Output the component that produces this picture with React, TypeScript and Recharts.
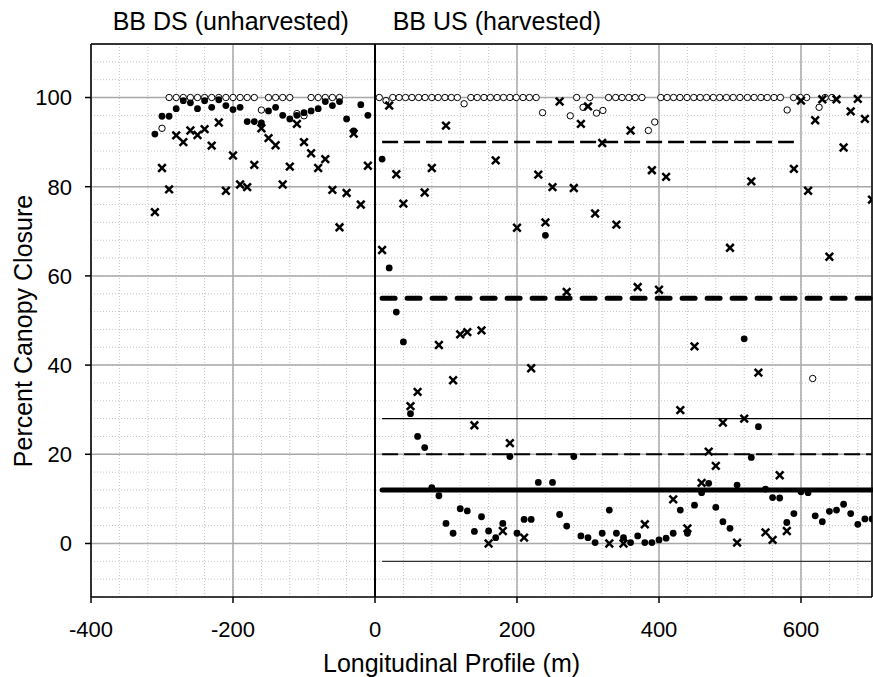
import React from 'react';
import { ScatterChart, Scatter, XAxis, YAxis, CartesianGrid, ReferenceLine } from 'recharts';

const W = 873;
const H = 677;
const FONT = 'Arial, "Liberation Sans", Helvetica, sans-serif';

// ---- ticks ----
const xMajorTicks = [-400, -200, 0, 200, 400, 600];
const yMajorTicks = [0, 20, 40, 60, 80, 100];
const xMinorTicks = [-400, -360, -320, -280, -240, -200, -160, -120, -80, -40, 0, 40, 80, 120, 160, 200, 240, 280, 320, 360, 400, 440, 480, 520, 560, 600, 640, 680];
const yMinorTicks = [-12, -8, -4, 0, 4, 8, 12, 16, 20, 24, 28, 32, 36, 40, 44, 48, 52, 56, 60, 64, 68, 72, 76, 80, 84, 88, 92, 96, 100, 104, 108];

// ---- BB DS (unharvested) ----
const dsX = [-310, -300, -290, -280, -270, -260, -250, -240, -230, -220, -210, -200, -190, -180, -170, -160, -150, -140, -130, -120, -110, -100, -90, -80, -70, -60, -50, -40, -30, -20, -10];
const dsFilled = [91.8, 95.8, 95.8, 97.5, 99.3, 98.8, 97.5, 99.3, 97.8, 99.5, 98.2, 97.3, 97.8, 94.6, 94.6, 94.3, 97.0, 97.8, 96.0, 95.2, 96.0, 96.6, 97.0, 97.5, 99.1, 98.2, 99.1, 95.2, 92.5, 98.4, 96.0];
const dsCross = [74.3, 84.2, 79.4, 91.5, 90.0, 92.6, 91.6, 92.9, 89.2, 94.4, 79.1, 87.0, 80.5, 79.9, 84.9, 93.1, 90.9, 89.3, 80.5, 84.5, 94.1, 90.0, 87.5, 84.2, 86.2, 79.3, 70.9, 78.6, 91.9, 76.0, 84.7];
const dsOpenX = [-300, -290, -280, -270, -260, -250, -240, -230, -220, -210, -200, -190, -180, -170, -160, -150, -140, -130, -120, -110, -100, -90, -80, -70, -60, -50];
const dsOpenY = [93.1, 100, 100, 100, 100, 100, 100, 100, 100, 100, 100, 100, 100, 100, 97.2, 100, 100, 100, 100, 96.4, 95.9, 100, 100, 100, 100, 100];

// ---- BB US (harvested) ----
const usX = [10, 20, 30, 40, 50, 60, 70, 80, 90, 100, 110, 120, 130, 140, 150, 160, 170, 180, 190, 200, 210, 220, 230, 240, 250, 260, 270, 280, 290, 300, 310, 320, 330, 340, 350, 360, 370, 380, 390, 400, 410, 420, 430, 440, 450, 460, 470, 480, 490, 500, 510, 520, 530, 540, 550, 560, 570, 580, 590, 600, 610, 620, 630, 640, 650, 660, 670, 680, 690, 700];
const usFilled = [86.2, 61.8, 51.9, 45.2, 29.1, 24.0, 21.5, 12.5, 10.7, 4.5, 2.3, 7.8, 7.3, 2.7, 6.0, 2.8, 1.3, 4.5, 19.5, 2.3, 5.4, 5.4, 13.7, 69.1, 13.7, 6.5, 3.9, 19.5, 1.7, 1.3, 0.2, 2.3, 7.5, 2.3, 1.3, 0.2, 1.7, 0.2, 0.2, 0.8, 1.2, 2.3, 7.5, 2.3, 8.6, 11.4, 13.5, 8.1, 4.9, 3.4, 13.1, 45.9, 19.3, 26.2, 12.2, 10.3, 10.2, 4.7, 6.7, 11.6, 11.4, 6.2, 4.9, 7.2, 7.5, 8.8, 6.7, 4.3, 5.5, 5.5];
const usCross = [65.8, 98.2, 82.8, 76.2, 30.8, 34.0, 78.7, 84.2, 44.5, 93.7, 36.6, 46.9, 47.4, 26.5, 47.8, 0, 85.9, 2.8, 22.5, 70.8, 1.3, 39.3, 82.7, 72.0, 79.9, 99.1, 56.4, 79.7, 94.1, 98.0, 74.0, 89.8, 0, 71.5, 0, 92.6, 57.5, 4.3, 83.7, 56.9, 82.2, 9.9, 29.9, 3.4, 44.2, 13.6, 20.6, 17.4, 27.1, 66.3, 0.2, 28.0, 81.2, 38.3, 2.5, 0.8, 15.3, 2.8, 84.0, 99.3, 79.1, 94.9, 99.6, 64.3, 99.6, 88.8, 96.9, 99.7, 95.2, 77.1];
const usOpenX = [6, 15.5, 25, 34, 43, 52, 61.5, 70.5, 80, 89, 98.5, 107.5, 116, 125.5, 135, 144, 153.5, 162.5, 172, 181, 190, 199, 208.5, 217.5, 227, 236, 275, 284, 293, 302.5, 312, 321, 329, 339, 348, 357.5, 366.5, 376, 385, 394, 402.5, 411.5, 420.5, 429.5, 439.5, 449, 458, 467, 476.5, 485.5, 495, 504.5, 514, 524.5, 534, 543.5, 552.5, 562, 571, 580.5, 589.5, 599, 608, 616.5, 625.5, 634, 643.5];
const usOpenY = [100, 99.3, 100, 100, 100, 100, 100, 100, 100, 100, 100, 100, 100, 98.6, 100, 100, 100, 100, 100, 100, 100, 100, 100, 100, 100, 96.6, 95.9, 100, 97.8, 100, 96.5, 97.1, 100, 100, 100, 100, 100, 100, 92.6, 94.5, 100, 100, 100, 100, 100, 100, 100, 100, 100, 100, 100, 100, 100, 100, 100, 100, 100, 100, 100, 97.2, 100, 100, 100, 37.0, 97.8, 100, 100];

// ---- horizontal reference levels (harvested reach) ----
const refStart = 10;
const refLevels = [
  { y: 90, end: 590, kind: 'dash' },
  { y: 55, end: 700, kind: 'thickDash' },
  { y: 28, end: 700, kind: 'thin' },
  { y: 20, end: 700, kind: 'dash2' },
  { y: 12, end: 700, kind: 'thick' },
  { y: -4, end: 700, kind: 'thin2' },
];

const zip = (xs: number[], ys: number[]) => xs.map((x, i) => ({ x, y: ys[i] }));

const filledData = [...zip(dsX, dsFilled), ...zip(usX, usFilled)];
const crossData = [...zip(dsX, dsCross), ...zip(usX, usCross)];
const openData = [...zip(dsOpenX, dsOpenY), ...zip(usOpenX, usOpenY)];

const FilledDot = (p: any) => <circle cx={p.cx} cy={p.cy} r={3.4} fill="#000" />;
const OpenDot = (p: any) => <circle cx={p.cx} cy={p.cy} r={3.2} fill="#fff" stroke="#000" strokeWidth={1} />;
const CrossMark = (p: any) => {
  const s = 3.8;
  return (
    <g>
      <line x1={p.cx - s} y1={p.cy - s} x2={p.cx + s} y2={p.cy + s} stroke="#000" strokeWidth={2.5} />
      <line x1={p.cx - s} y1={p.cy + s} x2={p.cx + s} y2={p.cy - s} stroke="#000" strokeWidth={2.5} />
    </g>
  );
};

const styleFor = (kind: string) => {
  switch (kind) {
    case 'dash': return { stroke: '#000', strokeWidth: 2.5, strokeDasharray: '16 6' };
    case 'thickDash': return { stroke: '#000', strokeWidth: 5, strokeDasharray: '13 12', strokeLinecap: 'round' as const };
    case 'thin': return { stroke: '#000', strokeWidth: 1.2 };
    case 'dash2': return { stroke: '#000', strokeWidth: 2, strokeDasharray: '16 6' };
    case 'thick': return { stroke: '#000', strokeWidth: 5, strokeLinecap: 'round' as const };
    default: return { stroke: '#333', strokeWidth: 1.2 };
  }
};

const tickStyle = { fontSize: 22, fill: '#000', fontFamily: FONT };

export default function App() {
  return (
    <div style={{ position: 'absolute', left: 0, top: 0, width: W, height: H, background: '#fff' }}>
      <ScatterChart width={W} height={H} margin={{ top: 44, right: 1, bottom: 0, left: 0 }}>
        <CartesianGrid
          verticalValues={xMinorTicks}
          horizontalValues={yMinorTicks}
          stroke="#c4c4c4"
          strokeDasharray="1 2"
          strokeWidth={1}
        />
        <CartesianGrid
          verticalValues={xMajorTicks}
          horizontalValues={yMajorTicks}
          stroke="#a8a8a8"
          strokeWidth={1.5}
        />
        <XAxis
          type="number"
          dataKey="x"
          domain={[-400, 700]}
          ticks={xMajorTicks}
          allowDataOverflow
          height={80}
          tickSize={6}
          tickMargin={18}
          axisLine={{ stroke: '#000', strokeWidth: 1.5 }}
          tickLine={{ stroke: '#000', strokeWidth: 1.5 }}
          tick={tickStyle}
          interval={0}
        />
        <YAxis
          type="number"
          dataKey="y"
          domain={[-12, 112]}
          ticks={yMajorTicks}
          allowDataOverflow
          width={91}
          tickSize={6}
          tickMargin={13}
          axisLine={{ stroke: '#000', strokeWidth: 1.5 }}
          tickLine={{ stroke: '#000', strokeWidth: 1.5 }}
          tick={tickStyle}
          interval={0}
        />
        <ReferenceLine y={112} stroke="#333" strokeWidth={2} />
        <ReferenceLine x={700} stroke="#333" strokeWidth={2} />
        <ReferenceLine x={0} stroke="#000" strokeWidth={2} />
        {refLevels.map((r) => (
          <ReferenceLine
            key={r.y}
            segment={[{ x: refStart, y: r.y }, { x: r.end, y: r.y }]}
            {...styleFor(r.kind)}
          />
        ))}
        <Scatter data={openData} shape={OpenDot} isAnimationActive={false} />
        <Scatter data={filledData} shape={FilledDot} isAnimationActive={false} />
        <Scatter data={crossData} shape={CrossMark} isAnimationActive={false} />
      </ScatterChart>
      <svg width={W} height={H} style={{ position: 'absolute', left: 0, top: 0, pointerEvents: 'none' }}>
        <text x={112.7} y={30} fontSize={25} fontFamily={FONT} fill="#000">BB DS (unharvested)</text>
        <text x={392.7} y={30} fontSize={25} fontFamily={FONT} fill="#000">BB US (harvested)</text>
        <text x={323} y={671.5} fontSize={25} fontFamily={FONT} fill="#000">Longitudinal Profile (m)</text>
        <text x={32} y={331} fontSize={25} fontFamily={FONT} fill="#000" textAnchor="middle" transform="rotate(-90 32 331)">Percent Canopy Closure</text>
      </svg>
    </div>
  );
}
